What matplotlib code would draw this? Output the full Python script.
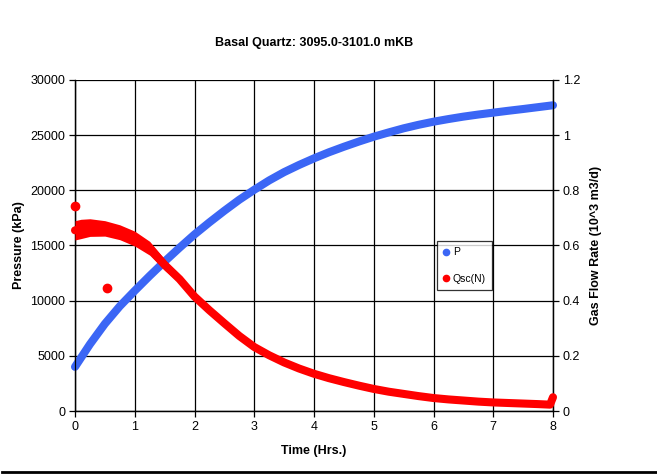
import numpy as np
import matplotlib
matplotlib.use('Agg')
import matplotlib.pyplot as plt
from matplotlib.ticker import FuncFormatter
from matplotlib.lines import Line2D

plt.rcParams['font.family'] = ['Liberation Sans', 'DejaVu Sans']

# pressure, kPa
t_p = [0, 0.25, 0.5, 0.75, 1.0, 1.25, 1.5, 1.75, 2.0, 2.25, 2.5, 2.75, 3.0,
       3.25, 3.5, 3.75, 4.0, 4.25, 4.5, 4.75, 5.0, 5.25, 5.5, 5.75, 6.0,
       6.25, 6.5, 6.75, 7.0, 7.25, 7.5, 7.75, 8.0]
pres = [4000, 6050, 7900, 9500, 10900, 12250, 13550, 14800, 16000, 17100,
        18150, 19150, 20050, 20900, 21650, 22300, 22900, 23450, 23950, 24420,
        24860, 25250, 25620, 25940, 26220, 26460, 26680, 26870, 27040, 27210,
        27370, 27540, 27710]

# gas rate, 10^3 m3/d (band centre and spread of the noisy points)
t_q = [0, 0.1, 0.25, 0.5, 0.75, 1.0, 1.25, 1.5, 1.75, 2.0, 2.25, 2.5, 2.75,
       3.0, 3.25, 3.5, 3.75, 4.0, 4.25, 4.5, 4.75, 5.0, 5.25, 5.5, 5.75,
       6.0, 6.25, 6.5, 6.75, 7.0, 7.25, 7.5, 7.75, 7.95, 8.0]
qsc = [0.655, 0.66, 0.665, 0.662, 0.648, 0.625, 0.59, 0.53, 0.478, 0.415,
       0.365, 0.318, 0.272, 0.232, 0.202, 0.176, 0.154, 0.135, 0.119, 0.105,
       0.092, 0.08, 0.07, 0.062, 0.054, 0.047, 0.042, 0.038, 0.034, 0.031,
       0.029, 0.027, 0.025, 0.023, 0.05]
spread = [0.035, 0.035, 0.032, 0.028, 0.027, 0.027, 0.025, 0.02, 0.014, 0.008,
          0.006, 0.005, 0.004, 0.004, 0.003, 0.003, 0.003, 0.003, 0.002, 0.002,
          0.002, 0.002, 0.002, 0.002, 0.002, 0.002, 0.002, 0.002, 0.002, 0.002,
          0.002, 0.002, 0.002, 0.002, 0.0]
q_odd_t = [0.0, 0.53]
q_odd = [0.745, 0.446]

fig = plt.figure(figsize=(6.57, 4.74), dpi=100)
ax = fig.add_axes([75/657, 1-411/474, 478/657, 331/474])
ax2 = ax.twinx()

ax.plot(t_p, pres, color='#3b66f5', lw=5.8, solid_capstyle='round',
        solid_joinstyle='round', zorder=3, clip_on=False)

q = np.array(qsc)
s = np.array(spread)
ax2.fill_between(t_q, q - s, q + s, color='red', lw=0, zorder=3)
ax2.plot(t_q, qsc, color='red', lw=5.8, solid_capstyle='round',
         solid_joinstyle='round', zorder=3, clip_on=False)
ax2.plot(q_odd_t, q_odd, 'o', color='red', ms=6, zorder=4, clip_on=False)

ax.set_xlim(0, 8)
ax.set_ylim(0, 30000)
ax2.set_ylim(0, 1.2)
ax.set_xticks(range(0, 9))
ax.set_yticks(range(0, 30001, 5000))
ax2.set_yticks([0, 0.2, 0.4, 0.6, 0.8, 1.0, 1.2])
ax2.yaxis.set_major_formatter(FuncFormatter(lambda v, p: '%g' % v))

ax.grid(True, color='black', lw=0.9)
ax.set_axisbelow(True)
for a in (ax, ax2):
    a.tick_params(direction='out', length=4, width=0.9, labelsize=9, colors='black', pad=3)
    for sp in a.spines.values():
        sp.set_color('black')
        sp.set_linewidth(0.9)
    a.spines['top'].set_visible(False)

ax.set_xlabel('Time (Hrs.)', fontsize=9, fontweight='bold', labelpad=9)
ax.set_ylabel('Pressure (kPa)', fontsize=9, fontweight='bold', labelpad=4)
ax2.set_ylabel('Gas Flow Rate (10^3 m3/d)', fontsize=9, fontweight='bold', labelpad=7)
fig.text(0.5*(75+553)/657, 1-43/474, 'Basal Quartz: 3095.0-3101.0 mKB',
         ha='center', va='center', fontsize=9, fontweight='bold')

handles = [Line2D([], [], ls='', marker='o', color='#3b66f5', ms=4.5),
           Line2D([], [], ls='', marker='o', color='red', ms=4.5)]
leg = fig.legend(handles, ['P', 'Qsc(N)'], loc='upper left',
                 bbox_to_anchor=(437/657, 1-241/474), fontsize=7.5,
                 frameon=True, fancybox=False, edgecolor='black',
                 handlelength=0.6, handletextpad=0.3, labelspacing=1.6,
                 borderpad=0.6, borderaxespad=0)
leg.get_frame().set_linewidth(0.9)

fig.add_artist(Line2D([2/657, 1], [1-472/474, 1-472/474], color='black', lw=2))

fig.savefig('out.png', dpi=100)
